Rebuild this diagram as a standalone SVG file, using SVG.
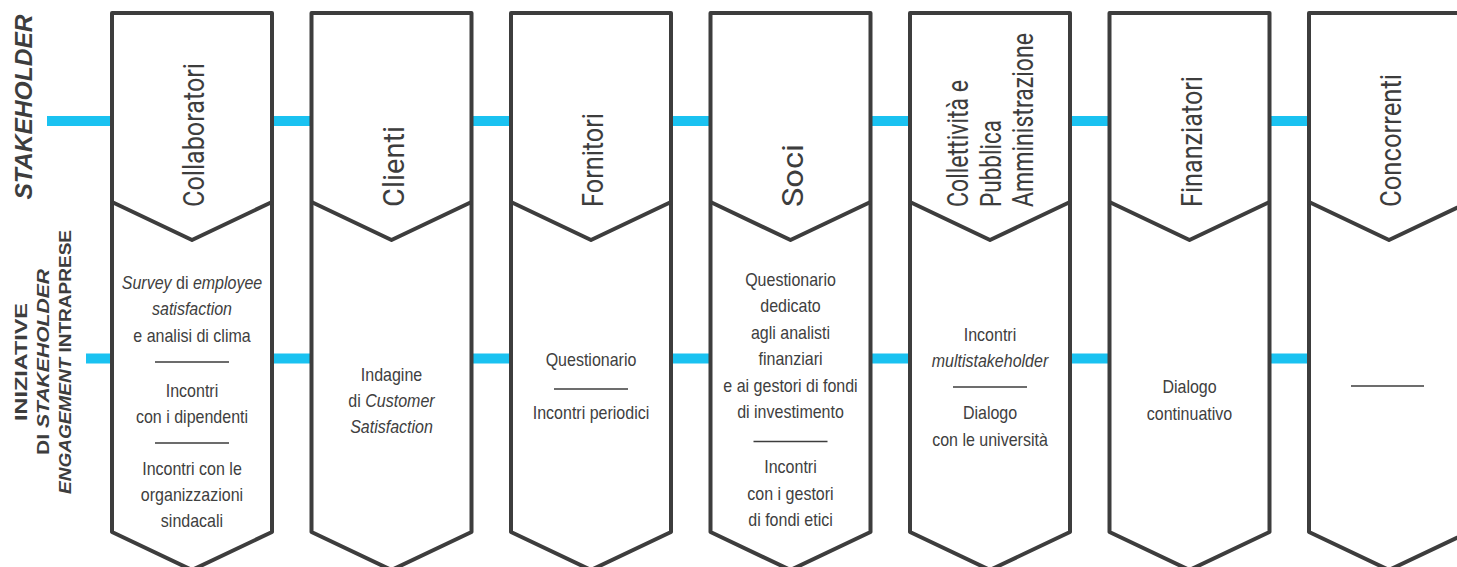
<svg xmlns="http://www.w3.org/2000/svg" width="1457" height="567" viewBox="0 0 1457 567">
  <style>
    .box { fill: #ffffff; stroke: #3d3d3d; stroke-width: 4; stroke-linejoin: round; }
    .notch { fill: none; stroke: #3d3d3d; stroke-width: 4; stroke-linejoin: round; }
    .link { stroke: #1ac2f1; stroke-width: 10; fill: none; }
    .sep { stroke: #3d3d3d; stroke-width: 1.6; }
    .title { font-family: Roboto, "Liberation Sans", sans-serif; font-size: 29px; fill: #3d3d3d; }
    .body { font-family: "Liberation Sans", Arial, sans-serif; font-size: 18px; fill: #404040; text-anchor: middle; }
    .side { font-family: "Liberation Sans", Arial, sans-serif; font-weight: bold; fill: #3d3d3d; text-anchor: middle; }
    .it { font-style: italic; }
  </style>

  <rect width="1457" height="567" fill="#ffffff"/>

  <!-- row headings -->
  <g id="row-labels">
    <text class="side it" font-size="24" transform="translate(32 107) rotate(-90)" textLength="185" lengthAdjust="spacingAndGlyphs">STAKEHOLDER</text>
    <g transform="translate(0 362) rotate(-90)">
      <text class="side" font-size="17" x="0" y="27" textLength="118" lengthAdjust="spacingAndGlyphs">INIZIATIVE</text>
      <text class="side" font-size="17" x="0" y="49" textLength="186" lengthAdjust="spacingAndGlyphs">DI <tspan class="it">STAKEHOLDER</tspan></text>
      <text class="side" font-size="17" x="0" y="71" textLength="264" lengthAdjust="spacingAndGlyphs"><tspan class="it">ENGAGEMENT</tspan> INTRAPRESE</text>
    </g>
  </g>

  <!-- connectors between the columns -->
  <g id="connectors">
    <path class="link" d="M47 121H112 M272 121H311.5 M471.5 121H511 M671 121H710.5 M870.5 121H910 M1070 121H1109.5 M1269.5 121H1309"/>
    <path class="link" d="M86 358.5H112 M272 358.5H311.5 M471.5 358.5H511 M671 358.5H710.5 M870.5 358.5H910 M1070 358.5H1109.5 M1269.5 358.5H1309"/>
  </g>

  <!-- Collaboratori -->
  <g id="collaboratori">
    <path class="box" d="M112 13H272V532L192 570L112 532Z"/>
    <path class="notch" d="M112 202L192 240L272 202"/>
    <text class="title" transform="translate(204 207) rotate(-90)" textLength="144" lengthAdjust="spacingAndGlyphs">Collaboratori</text>
    <g transform="translate(192 0) scale(0.89 1)">
      <text class="body" x="0" y="289"><tspan class="it">Survey</tspan> di <tspan class="it">employee</tspan></text>
      <text class="body it" x="0" y="315.5">satisfaction</text>
      <text class="body" x="0" y="342">e analisi di clima</text>
      <text class="body" x="0" y="397">Incontri</text>
      <text class="body" x="0" y="423">con i dipendenti</text>
      <text class="body" x="0" y="475">Incontri con le</text>
      <text class="body" x="0" y="501">organizzazioni</text>
      <text class="body" x="0" y="527">sindacali</text>
    </g>
    <path class="sep" d="M155 362H229 M155 443H229"/>
  </g>

  <!-- Clienti -->
  <g id="clienti">
    <path class="box" d="M311.5 13H471.5V532L391.5 570L311.5 532Z"/>
    <path class="notch" d="M311.5 202L391.5 240L471.5 202"/>
    <text class="title" transform="translate(403.5 207) rotate(-90)" textLength="81" lengthAdjust="spacingAndGlyphs">Clienti</text>
    <g transform="translate(391.5 0) scale(0.89 1)">
      <text class="body" x="0" y="381.5">Indagine</text>
      <text class="body" x="0" y="407.5">di <tspan class="it">Customer</tspan></text>
      <text class="body it" x="0" y="433.5">Satisfaction</text>
    </g>
  </g>

  <!-- Fornitori -->
  <g id="fornitori">
    <path class="box" d="M511 13H671V532L591 570L511 532Z"/>
    <path class="notch" d="M511 202L591 240L671 202"/>
    <text class="title" transform="translate(603 207) rotate(-90)" textLength="94" lengthAdjust="spacingAndGlyphs">Fornitori</text>
    <g transform="translate(591 0) scale(0.89 1)">
      <text class="body" x="0" y="366.5">Questionario</text>
      <text class="body" x="0" y="419.5">Incontri periodici</text>
    </g>
    <path class="sep" d="M554 389H628"/>
  </g>

  <!-- Soci -->
  <g id="soci">
    <path class="box" d="M710.5 13H870.5V532L790.5 570L710.5 532Z"/>
    <path class="notch" d="M710.5 202L790.5 240L870.5 202"/>
    <text class="title" transform="translate(802.5 207) rotate(-90)" textLength="63" lengthAdjust="spacingAndGlyphs">Soci</text>
    <g transform="translate(790.5 0) scale(0.89 1)">
      <text class="body" x="0" y="286.5">Questionario</text>
      <text class="body" x="0" y="312.5">dedicato</text>
      <text class="body" x="0" y="339">agli analisti</text>
      <text class="body" x="0" y="365.5">finanziari</text>
      <text class="body" x="0" y="392">e ai gestori di fondi</text>
      <text class="body" x="0" y="418">di investimento</text>
      <text class="body" x="0" y="473">Incontri</text>
      <text class="body" x="0" y="500">con i gestori</text>
      <text class="body" x="0" y="526.5">di fondi etici</text>
    </g>
    <path class="sep" d="M753.5 441.5H827.5"/>
  </g>

  <!-- Collettività e Pubblica Amministrazione -->
  <g id="collettivita">
    <path class="box" d="M910 13H1070V532L990 570L910 532Z"/>
    <path class="notch" d="M910 202L990 240L1070 202"/>
    <text class="title" transform="translate(968 207) rotate(-90)" textLength="127" lengthAdjust="spacingAndGlyphs">Collettività e</text>
    <text class="title" transform="translate(1000.5 207) rotate(-90)" textLength="87" lengthAdjust="spacingAndGlyphs">Pubblica</text>
    <text class="title" transform="translate(1033 207) rotate(-90)" textLength="174" lengthAdjust="spacingAndGlyphs">Amministrazione</text>
    <g transform="translate(990 0) scale(0.89 1)">
      <text class="body" x="0" y="341.5">Incontri</text>
      <text class="body it" x="0" y="367">multistakeholder</text>
      <text class="body" x="0" y="419.5">Dialogo</text>
      <text class="body" x="0" y="446">con le università</text>
    </g>
    <path class="sep" d="M953 387H1027"/>
  </g>

  <!-- Finanziatori -->
  <g id="finanziatori">
    <path class="box" d="M1109.5 13H1269.5V532L1189.5 570L1109.5 532Z"/>
    <path class="notch" d="M1109.5 202L1189.5 240L1269.5 202"/>
    <text class="title" transform="translate(1201.5 207) rotate(-90)" textLength="131" lengthAdjust="spacingAndGlyphs">Finanziatori</text>
    <g transform="translate(1189.5 0) scale(0.89 1)">
      <text class="body" x="0" y="393">Dialogo</text>
      <text class="body" x="0" y="420">continuativo</text>
    </g>
  </g>

  <!-- Concorrenti -->
  <g id="concorrenti">
    <path class="box" d="M1309 13H1469V532L1389 570L1309 532Z"/>
    <path class="notch" d="M1309 202L1389 240L1469 202"/>
    <text class="title" transform="translate(1401 207) rotate(-90)" textLength="133" lengthAdjust="spacingAndGlyphs">Concorrenti</text>
    <path class="sep" d="M1351 386H1424"/>
  </g>
</svg>
